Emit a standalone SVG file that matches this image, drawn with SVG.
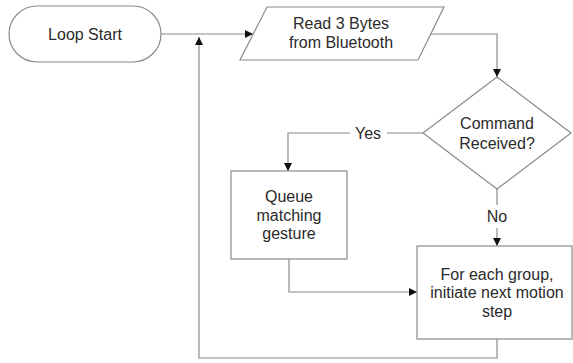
<svg xmlns="http://www.w3.org/2000/svg" width="573" height="363" viewBox="0 0 573 363">
  <defs>
    <marker id="arrow" viewBox="0 0 10 10" refX="10" refY="5" markerWidth="8" markerHeight="8" markerUnits="userSpaceOnUse" orient="auto">
      <path d="M0,0 L10,5 L0,10 Z" fill="#111"/>
    </marker>
    <style>
      .shape { fill: #fff; stroke: #8a8a8a; stroke-width: 1.2; }
      .line { fill: none; stroke: #8a8a8a; stroke-width: 1.2; }
      .label { font-family: "Liberation Sans", Arial, sans-serif; font-size: 16px; fill: #2a2a2a; text-anchor: middle; }
    </style>
  </defs>
  <rect width="573" height="363" fill="#fff"/>

  <g id="connectors">
    <!-- start to read -->
    <path class="line" d="M161,34 H253" marker-end="url(#arrow)"/>
    <!-- read to decision -->
    <path class="line" d="M431,34 H497 V77" marker-end="url(#arrow)"/>
    <!-- yes branch -->
    <path class="line" d="M423,133 H387 M350,133 H288 V171" marker-end="url(#arrow)"/>
    <!-- no branch -->
    <path class="line" d="M497,189 V205 M497,228 V246" marker-end="url(#arrow)"/>
    <!-- queue to motion -->
    <path class="line" d="M289,259 V292 H417" marker-end="url(#arrow)"/>
    <!-- loop back -->
    <path class="line" d="M497,339 V358 H199 V37" marker-end="url(#arrow)"/>
    <text class="label" x="368" y="139">Yes</text>
    <text class="label" x="497" y="222">No</text>
  </g>

  <g id="loop-start">
    <rect class="shape" x="9" y="6" width="152" height="56" rx="28" ry="28"/>
    <text class="label" x="85" y="40">Loop Start</text>
  </g>

  <g id="read-bytes">
    <path class="shape" d="M267,7 H444 L418,60 H240 Z"/>
    <text class="label" x="341" y="29">Read 3 Bytes</text>
    <text class="label" x="341" y="48">from Bluetooth</text>
  </g>

  <g id="command-received">
    <path class="shape" d="M497,77 L571,133 L497,189 L423,133 Z"/>
    <text class="label" x="497" y="129">Command</text>
    <text class="label" x="497" y="149">Received?</text>
  </g>

  <g id="queue-gesture">
    <rect class="shape" x="231" y="171" width="116" height="88"/>
    <text class="label" x="289" y="202">Queue</text>
    <text class="label" x="289" y="221">matching</text>
    <text class="label" x="289" y="239">gesture</text>
  </g>

  <g id="motion-step">
    <rect class="shape" x="417" y="246" width="155" height="93"/>
    <text class="label" x="497" y="280">For each group,</text>
    <text class="label" x="497" y="298">initiate next motion</text>
    <text class="label" x="497" y="317">step</text>
  </g>
</svg>
